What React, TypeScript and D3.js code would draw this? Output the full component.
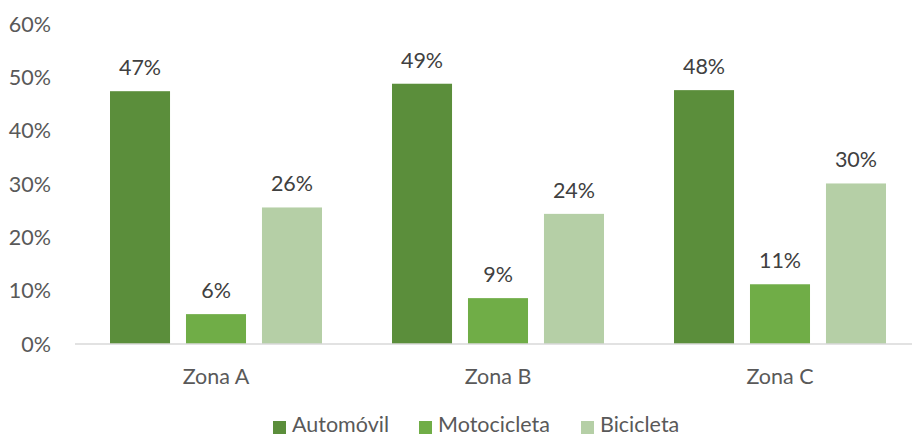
import React from "react";
import * as d3 from "d3";

const categories = ["Zona A", "Zona B", "Zona C"];
const seriesNames = ["Automóvil", "Motocicleta", "Bicicleta"];
const automovil = [47.4, 48.8, 47.6];
const motocicleta = [5.6, 8.6, 11.2];
const bicicleta = [25.6, 24.4, 30.1];
const yTicks = [0, 10, 20, 30, 40, 50, 60];
const colors = ["#5B8E3B", "#70AD47", "#B5CFA6"];

const W = 912;
const H = 436;
const FONT = "Lato, 'Open Sans', sans-serif";
const FS = 21.5;

export default function App() {
  const series = [automovil, motocicleta, bicicleta];
  const x0 = d3.scaleBand().domain(categories).range([75, 921]).paddingInner(0).paddingOuter(0);
  const x1 = d3
    .scaleBand()
    .domain(seriesNames)
    .range([35, x0.bandwidth() - 35])
    .paddingInner(0.21)
    .paddingOuter(0);
  const y = d3.scaleLinear().domain([0, 60]).range([344, 24]);

  const legendX = [273, 419, 581];

  return (
    <svg
      width={W}
      height={H}
      style={{ position: "absolute", left: 0, top: 0, background: "#fff" }}
      fontFamily={FONT}
    >
      {yTicks.map((t) => (
        <text
          key={t}
          x={51}
          y={y(t)}
          dy="0.36em"
          textAnchor="end"
          fontSize={FS}
          fill="#595959"
        >
          {t}%
        </text>
      ))}
      {categories.map((c, ci) => (
        <g key={c} transform={`translate(${x0(c)},0)`}>
          {series.map((s, si) => {
            const bx = x1(seriesNames[si])!;
            const bw = x1.bandwidth();
            return (
              <g key={si}>
                <rect
                  x={bx}
                  y={y(s[ci])}
                  width={bw}
                  height={y(0) - y(s[ci])}
                  fill={colors[si]}
                />
                <text
                  x={bx + bw / 2}
                  y={y(s[ci]) - 16}
                  textAnchor="middle"
                  fontSize={FS}
                  fill="#404040"
                >
                  {Math.round(s[ci])}%
                </text>
              </g>
            );
          })}
          <text
            x={x0.bandwidth() / 2}
            y={384}
            textAnchor="middle"
            fontSize={FS}
            fill="#595959"
          >
            {c}
          </text>
        </g>
      ))}
      <line x1={75} x2={912} y1={y(0)} y2={y(0)} stroke="#D9D9D9" strokeWidth={1.5} />
      {seriesNames.map((n, i) => (
        <g key={n}>
          <rect x={legendX[i]} y={421} width={13} height={13} fill={colors[i]} />
          <text x={legendX[i] + 19} y={432} fontSize={FS} fill="#595959">
            {n}
          </text>
        </g>
      ))}
    </svg>
  );
}
